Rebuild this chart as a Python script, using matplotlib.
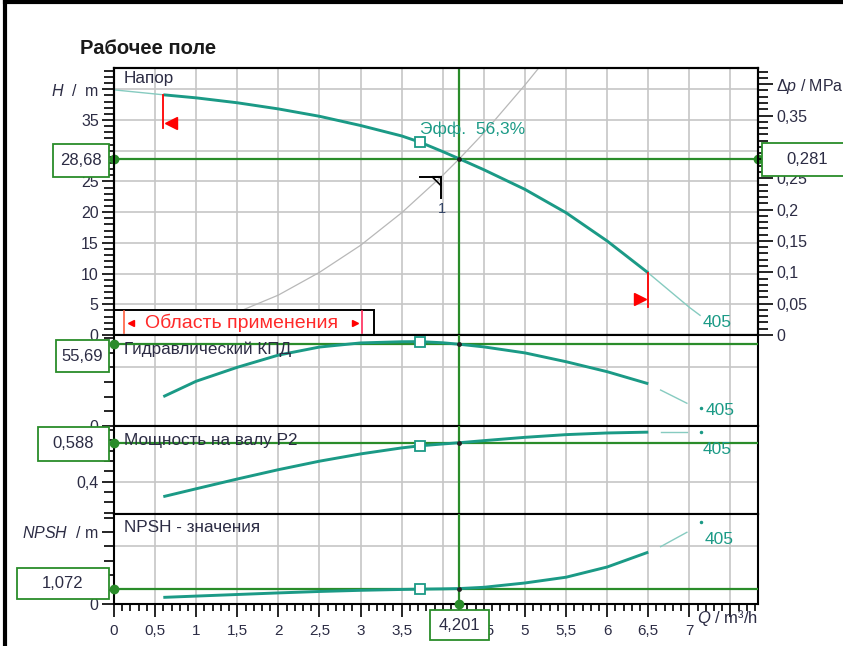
import numpy as np
import matplotlib.pyplot as plt
from matplotlib.patches import Rectangle, Polygon
from matplotlib.lines import Line2D
from matplotlib.ticker import MultipleLocator

plt.rcParams['font.family'] = ['Liberation Sans', 'DejaVu Sans']
plt.rcParams['mathtext.fontset'] = 'custom'
plt.rcParams['mathtext.rm'] = 'Liberation Sans'
plt.rcParams['mathtext.it'] = 'Liberation Sans:italic'

# pump curve 405 inside the working range, Q in m3/h
q = [0.6, 1.0, 1.5, 2.0, 2.5, 3.0, 3.5, 3.72, 4.0, 4.201, 4.5, 5.0, 5.5, 6.0, 6.5]
head = [39.1, 38.6, 37.8, 36.8, 35.6, 34.1, 32.4, 31.4, 29.85, 28.68, 26.9, 23.7, 19.9, 15.3, 10.1]
eff = [20.0, 30.5, 40.0, 48.3, 53.8, 56.6, 57.4, 57.5, 56.7, 55.69, 53.9, 49.8, 43.8, 37.0, 28.8]
power = [0.328, 0.366, 0.413, 0.458, 0.499, 0.534, 0.563, 0.573, 0.582, 0.588, 0.598, 0.614, 0.627, 0.635, 0.639]
npsh = [0.46, 0.55, 0.66, 0.77, 0.87, 0.95, 1.01, 1.03, 1.05, 1.072, 1.16, 1.46, 1.86, 2.57, 3.6]

# thin parts outside the working range
q_lo = [0.0, 0.6]
head_lo = [39.9, 39.1]
q_hi = [6.5, 6.75, 7.0, 7.13]
head_hi = [10.1, 7.3, 4.5, 3.2]
q_tail = [6.65, 6.8, 6.97]
eff_tail = [24.5, 20.3, 15.5]
power_tail = [0.639, 0.639, 0.639]
npsh_tail = [3.98, 4.45, 4.98]
q_end = 7.14
eff_end, power_end, npsh_end = 12.1, 0.639, 5.67

# system curve 1
q_sys = [0.0, 0.5, 1.0, 1.5, 2.0, 2.5, 3.0, 3.5, 4.0, 4.201, 4.5, 5.0, 5.2]
h_sys = [0.0, 0.4, 1.6, 3.7, 6.5, 10.2, 14.6, 19.9, 26.0, 28.68, 32.9, 40.7, 44.0]

# duty point
q_op, h_op, dp_op = 4.201, 28.68, 0.281
eff_op, p2_op, npsh_op = 55.69, 0.588, 1.072
q_best = 3.72
q_min, q_max = 0.6, 6.5
curve_name = '405'
eff_text = 'Эфф.  56,3%'

TEAL = '#1b9a86'
TEAL_THIN = '#86cbc0'
GREEN = '#2a8c2a'
GRID = '#c6c6c6'
TXT = '#2c2c44'

W, H = 843, 646
fig = plt.figure(figsize=(W / 100, H / 100), dpi=100)


def fx(px):
    return px / W


def fy(py):
    return 1 - py / H


def fmt(v):
    return f'{v:g}'.replace('.', ',')


def panel(top, bottom):
    ax = fig.add_axes([fx(114), fy(bottom), fx(758) - fx(114), (bottom - top) / H])
    ax.set_xlim(0, 7.835)
    ax.set_xticks(np.arange(0, 7.6, 0.5))
    ax.grid(axis='x', color=GRID, lw=1.2)
    ax.tick_params(axis='x', length=0, labelbottom=False)
    ax.tick_params(axis='y', which='both', direction='out', color='black',
                   labelcolor=TXT, labelsize=11.5, pad=2, width=1.2)
    ax.tick_params(axis='y', which='major', length=9)
    ax.tick_params(axis='y', which='minor', length=7)
    for s in ax.spines.values():
        s.set_linewidth(1.5)
    return ax


def panel_label(ax, text, dy):
    ax.annotate(text, xy=(0, 1), xycoords='axes fraction', xytext=(10, -dy),
                textcoords='offset pixels', ha='left', va='center',
                fontsize=12.3, color=TXT, zorder=9)


def duty_line(ax, val):
    ax.axhline(val, color=GREEN, lw=1.6, zorder=3)
    ax.axvline(q_op, color=GREEN, lw=1.6, zorder=3)
    ax.plot(0, val, marker='o', ms=6, color=GREEN, clip_on=False, zorder=8)


def curve(ax, yv, tail=None, end=None):
    ax.plot(q, yv, color=TEAL, lw=2.1, zorder=4, solid_capstyle='butt')
    if tail is not None:
        ax.plot(q_tail, tail, color=TEAL_THIN, lw=1.0, zorder=4)
    if end is not None:
        ax.plot(q_end, end, 'o', ms=1.5, color=TEAL, zorder=4)
    i = q.index(q_best)
    ax.plot(q_best, yv[i], 's', ms=6.5, mfc='white', mec=TEAL, mew=1.3, zorder=6)
    j = q.index(q_op)
    ax.plot(q_op, yv[j], 'o', ms=2.5, color='#222222', zorder=6)


def value_box(ax, val, x0, x1, height, text, dy=0):
    yc = H - ax.transData.transform((0, val))[1] + dy
    fig.add_artist(Rectangle((fx(x0), fy(yc + height / 2)), fx(x1) - fx(x0), height / H,
                             transform=fig.transFigure, facecolor='white',
                             edgecolor=GREEN, lw=1.3, zorder=10))
    fig.text(fx((x0 + x1) / 2), fy(yc), text, ha='center', va='center',
             fontsize=12, color=TXT, zorder=11)


# --- head ---
ax_h = panel(68, 335)
ax_h.set_ylim(0, 43.46)
h_labels = [str(v) for v in range(0, 40, 5)] + ['$H$  /  m']
h_labels[6] = ''  # under the duty value box
ax_h.set_yticks(range(0, 45, 5), h_labels)
ax_h.yaxis.set_minor_locator(MultipleLocator(1))
for v in range(5, 45, 5):
    ax_h.axhline(v, color=GRID, lw=1.2, zorder=1.5)
ax_h.plot(q_sys, h_sys, color='#b8b8b8', lw=0.9, zorder=2)
duty_line(ax_h, h_op)
ax_h.plot(ax_h.get_xlim()[1], h_op, marker='o', ms=6, color=GREEN, clip_on=False, zorder=8)
ax_h.plot(q_lo, head_lo, color=TEAL_THIN, lw=1.0, zorder=4)
ax_h.plot(q_hi, head_hi, color=TEAL_THIN, lw=1.0, zorder=4)
curve(ax_h, head)
panel_label(ax_h, 'Напор', 10)
ax_h.annotate(curve_name, xy=(q_hi[-1], head_hi[-1]), xytext=(3, -7),
              textcoords='offset pixels', ha='left', va='center', fontsize=12.5, color=TEAL)
ax_h.annotate(eff_text, xy=(q_best, head[q.index(q_best)]), xytext=(0, 13),
              textcoords='offset pixels', ha='left', va='center', fontsize=12.5, color=TEAL)

# application limits on the head curve
dq = 7.835 / 644
dh = 43.46 / 267
h_min = head[q.index(q_min)]
h_max = head[q.index(q_max)]
ax_h.plot([q_min, q_min], [h_min, h_min - 33 * dh], color='red', lw=1.3, zorder=5)
ax_h.plot(q_min + 8 * dq, h_min - 28 * dh, marker='<', ms=8, color='red', zorder=5)
ax_h.plot([q_max, q_max], [h_max, h_max - 34 * dh], color='red', lw=1.3, zorder=5)
ax_h.plot(q_max - 8 * dq, h_max - 26 * dh, marker='>', ms=8, color='red', zorder=5)

# system curve tag
qa = 3.98
ha_ = np.interp(qa, q_sys, h_sys)
ax_h.plot([qa - 21 * dq, qa, qa], [ha_, ha_, ha_ - 21 * dh], color='black', lw=1.4, zorder=5)
ax_h.add_patch(Polygon([(qa - 9 * dq, ha_), (qa, ha_), (qa, ha_ - 9 * dh)], closed=True,
                       fill=False, edgecolor='black', lw=1.2, zorder=5))
ax_h.annotate('1', xy=(qa, ha_), xytext=(1, -32), textcoords='offset pixels',
              ha='center', va='center', fontsize=10.5, color='#334466')

# working range box
ax_h.add_patch(Rectangle((0, 0), 3.16, 4.07, facecolor='white', edgecolor='black',
                         lw=1.4, zorder=6, clip_on=False))
ax_h.text(1.55, 2.0, 'Область применения', color='#ff2a2a', fontsize=14,
          ha='center', va='center', zorder=7)
ax_h.plot([0.12, 0.12], [0.25, 3.85], color='#ff6040', lw=1.2, zorder=7)
ax_h.plot([3.02, 3.02], [0.25, 3.85], color='#ff2a5a', lw=1.2, zorder=7)
ax_h.plot(0.21, 2.0, marker='<', ms=4, color='red', zorder=7)
ax_h.plot(2.93, 2.0, marker='>', ms=4, color='red', zorder=7)

# pressure scale
ax_dp = ax_h.twinx()
ax_dp.set_ylim(0, 43.46 * dp_op / h_op)
dp_ticks = np.round(np.arange(0, 0.401, 0.05), 2)
dp_labels = [fmt(v) for v in dp_ticks[:-1]] + [r'$\mathit{\Delta p}$ / MPa']
dp_labels[6] = ''  # under the duty value box
ax_dp.set_yticks(dp_ticks, dp_labels)
ax_dp.yaxis.set_minor_locator(MultipleLocator(0.01))
ax_dp.tick_params(axis='y', which='both', direction='out', color='black',
                  labelcolor=TXT, labelsize=11.5, pad=2, width=1.2)
ax_dp.tick_params(axis='y', which='major', length=11)
ax_dp.tick_params(axis='y', which='minor', length=7)
for s in ax_dp.spines.values():
    s.set_linewidth(1.5)

# --- efficiency ---
ax_e = panel(335, 426)
ax_e.set_ylim(0, 62.0)
ax_e.set_yticks([0, 40], ['0', ''])
ax_e.yaxis.set_minor_locator(MultipleLocator(10))
ax_e.axhline(40, color=GRID, lw=1.2, zorder=1.5)
duty_line(ax_e, eff_op)
curve(ax_e, eff, eff_tail, eff_end)
panel_label(ax_e, 'Гидравлический КПД', 14)
ax_e.annotate(curve_name, xy=(q_end, eff_end), xytext=(5, -2),
              textcoords='offset pixels', ha='left', va='center', fontsize=12.5, color=TEAL)

# --- shaft power ---
ax_p = panel(426, 514)
ax_p.set_ylim(0.2443, 0.6686)
ax_p.set_yticks([0.4], ['0,4'])
ax_p.yaxis.set_minor_locator(MultipleLocator(0.05))
ax_p.axhline(0.4, color=GRID, lw=1.2, zorder=1.5)
duty_line(ax_p, p2_op)
curve(ax_p, power, power_tail, power_end)
panel_label(ax_p, 'Мощность на валу P2', 14)
ax_p.annotate(curve_name, xy=(q_end, power_end), xytext=(2, -17),
              textcoords='offset pixels', ha='left', va='center', fontsize=12.5, color=TEAL)

# --- NPSH ---
ax_n = panel(514, 604)
ax_n.set_ylim(0, 6.25)
ax_n.set_yticks([0, 5], ['0', '$NPSH$  / m'])
ax_n.yaxis.set_minor_locator(MultipleLocator(1))
ax_n.axhline(4, color=GRID, lw=1.2, zorder=1.5)
duty_line(ax_n, npsh_op)
curve(ax_n, npsh, npsh_tail, npsh_end)
ax_n.plot(q_op, 0, marker='o', ms=6, color=GREEN, clip_on=False, zorder=8)
panel_label(ax_n, 'NPSH - значения', 14)
ax_n.annotate(curve_name, xy=(q_end, npsh_end), xytext=(4, -17),
              textcoords='offset pixels', ha='left', va='center', fontsize=12.5, color=TEAL)

xt = np.arange(0, 7.6, 0.5)
x_labels = [fmt(v) for v in xt[:-1]] + ['']
x_labels[8] = ''  # under the duty value box
ax_n.set_xticks(xt, x_labels)
ax_n.xaxis.set_minor_locator(MultipleLocator(0.1))
ax_n.tick_params(axis='x', which='both', direction='out', color='black', width=1.2,
                 labelbottom=True, labelcolor=TXT, labelsize=11, pad=5)
ax_n.tick_params(axis='x', which='major', length=9.5)
ax_n.tick_params(axis='x', which='minor', length=5)
ax_n.text(7.09, -0.155, '$Q$ / m³/h', transform=ax_n.get_xaxis_transform(),
          ha='left', va='center', fontsize=12, color=TXT)

# value boxes at the duty point
value_box(ax_h, h_op, 53, 109, 33, fmt(h_op), 2)
value_box(ax_h, h_op, 762, 852, 33, fmt(dp_op), 1)
value_box(ax_e, eff_op, 56, 109, 32, fmt(eff_op), 12)
value_box(ax_p, p2_op, 38, 109, 34, fmt(p2_op), 1)
value_box(ax_n, npsh_op, 17, 109, 31, fmt(npsh_op), -5.5)
xq = ax_n.transData.transform((q_op, 0))[0]
fig.add_artist(Rectangle((fx(xq - 29.5), fy(640)), 59 / W, 30 / H, transform=fig.transFigure,
                         facecolor='white', edgecolor=GREEN, lw=1.3, zorder=10))
fig.text(fx(xq), fy(625), fmt(q_op), ha='center', va='center', fontsize=12, color=TXT, zorder=11)

fig.text(fx(80), fy(49), 'Рабочее поле', fontsize=14.5, fontweight='bold', ha='left',
         va='center', color='#1a1a1a')

# outer frame
fig.add_artist(Line2D([fx(5), 1], [fy(2), fy(2)], transform=fig.transFigure, color='black', lw=3))
fig.add_artist(Line2D([fx(5), fx(5)], [fy(2), 0], transform=fig.transFigure, color='black', lw=3))

fig.savefig('out.png', dpi=100)
